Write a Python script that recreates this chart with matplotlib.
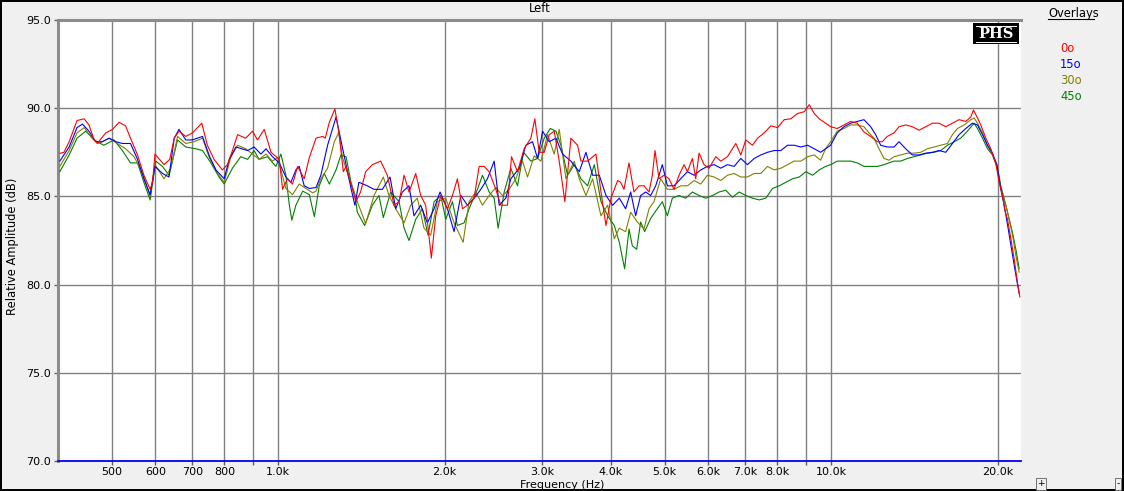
import matplotlib
matplotlib.use("Agg")
import matplotlib.pyplot as plt
from matplotlib.lines import Line2D
from matplotlib.patches import Rectangle
from matplotlib.ticker import FixedLocator, FixedFormatter, NullLocator

plt.rcParams["font.family"] = ["DejaVu Sans"]

TITLE = "Left"
X_LABEL = "Frequency (Hz)"
Y_LABEL = "Relative Amplitude (dB)"
LEGEND_TITLE = "Overlays"
LOGO = "PHS"

X_TICKS = [500, 600, 700, 800, 900, 1000, 2000, 3000, 4000, 5000, 6000, 7000, 8000, 9000, 10000, 20000]
X_TICK_LABELS = ["500", "600", "700", "800", "", "1.0k", "2.0k", "3.0k", "4.0k", "5.0k",
                 "6.0k", "7.0k", "8.0k", "", "10.0k", "20.0k"]
Y_TICKS = [70, 75, 80, 85, 90, 95]
Y_TICK_LABELS = ["70.0", "75.0", "80.0", "85.0", "90.0", "95.0"]
X_RANGE = (400, 22050)
Y_RANGE = (70, 95)

SERIES_NAMES = ["0o", "15o", "30o", "45o"]
SERIES_COLORS = ["#ff0000", "#0000ff", "#808000", "#008000"]

# 0 degrees (red)
F_0 = [403, 410, 419, 433, 446, 455, 465, 471, 488, 502, 516, 530, 541, 557, 572, 587, 593, 599, 622, 637,
       649, 662, 681, 700, 715, 728, 745, 766, 793, 810, 827, 845, 874, 899, 918, 944, 971, 1005, 1019, 1040,
       1062, 1085, 1115, 1139, 1171, 1204, 1217, 1238, 1267, 1290, 1312, 1327, 1355, 1383,
       1410, 1440, 1481, 1533, 1576, 1621, 1655, 1690, 1725, 1774, 1811, 1849, 1893, 1928, 1969, 2024,
       2067, 2110, 2155, 2200, 2262, 2310, 2358, 2408, 2476, 2528, 2599, 2643, 2710, 2786, 2865, 2913,
       2966, 3029, 3093, 3158, 3224, 3301, 3385, 3480, 3529, 3628, 3757, 3836, 3917, 3999, 4112,
       4163, 4222, 4311, 4401, 4494, 4589, 4686, 4751, 4804, 4885, 4988, 5093, 5200, 5310, 5422, 5498,
       5613, 5692, 5772, 5893, 6017, 6187, 6317, 6495, 6725, 6867, 7011, 7209, 7361, 7568, 7782, 8001,
       8227, 8458, 8697, 8942, 9130, 9323, 9519,
       9774, 9980, 10261, 10550, 10848, 11153, 11468, 11791, 12123, 12379, 12639, 12996, 13269, 13643,
       14028, 14423, 14830, 15248, 15678, 16120, 16574, 17041, 17522, 17891, 18090, 18395, 18653, 19046,
       19447, 19856, 20134, 20416, 20615, 20846, 21138, 21434, 21734, 21946]
DB_0 = [87.44, 87.5, 88.1, 89.3, 89.4, 89.05, 88.2, 88.0, 88.6, 88.8, 89.2, 89.0, 88.3, 87.35, 86.2, 85.4,
        85.8, 87.4, 86.8, 87.1, 88.3, 88.7, 88.4, 88.6, 88.9, 89.15, 87.9, 87.1, 86.5, 86.8, 87.6, 88.5,
        88.3, 88.7, 88.2, 88.8, 87.5, 87.1, 85.4, 86.0, 85.7, 86.7, 86.0, 87.2, 88.3, 88.4, 88.3, 89.2,
        89.96, 88.5, 86.4, 86.7, 85.7, 84.7,
        85.25, 86.4, 86.8, 87.0, 86.2, 84.5, 84.7, 86.2, 85.25, 86.3, 85.05, 84.5, 81.5, 83.9, 85.05, 84.3,
        85.05, 86.0, 84.3, 84.5, 84.9, 86.7, 86.7, 86.4, 85.4, 84.5, 84.5, 87.25, 86.4, 87.7, 88.3, 89.4,
        87.5, 87.5, 88.5, 88.7, 87.0, 84.7, 88.3, 87.9, 87.0, 87.0, 87.4, 85.25, 83.35, 84.9, 85.9,
        85.8, 85.4, 86.9, 85.25, 85.6, 85.6, 85.25, 86.2, 87.6, 86.0, 86.2, 86.0, 85.4, 86.2, 86.8, 86.4,
        87.15, 86.0, 87.45, 86.8, 86.6, 87.25, 87.0, 87.25, 88.0, 87.35, 88.2, 87.9, 88.3, 88.6, 89.0, 88.9,
        89.35, 89.4, 89.7, 89.8, 90.2, 89.7, 89.4,
        89.15, 88.95, 88.85, 89.05, 89.25, 89.15, 88.65, 88.4, 88.1, 88.1, 88.4, 88.6, 88.95, 89.05,
        88.95, 88.75, 88.95, 89.15, 89.15, 88.95, 89.15, 89.35, 89.25, 89.5, 89.9, 89.45, 89.05, 88.3,
        87.7, 86.85, 85.8, 85.05, 84.2, 83.7, 82.6, 81.45, 80.1, 79.3]

# 15 degrees (blue)
F_15 = [403, 419, 433, 443, 455, 468, 481, 495, 509, 523, 541, 557, 572, 587, 599, 618, 635, 649, 662, 681,
        700, 730, 751, 772, 799, 816, 839, 881, 905, 931, 951, 977, 1005, 1033, 1055, 1077, 1092, 1115,
        1139, 1171, 1195, 1229, 1273, 1299, 1327, 1355, 1377,
        1400, 1450, 1491, 1544, 1594, 1632, 1678, 1725, 1761, 1811, 1862, 1915, 1963, 2024, 2081, 2140,
        2200, 2262, 2326, 2391, 2459, 2511, 2581, 2636, 2729, 2806, 2885, 2946, 3008, 3093, 3180, 3269,
        3385, 3505, 3603, 3705, 3809, 3917, 4027, 4140,
        4251, 4341, 4432, 4525, 4621, 4718, 4818, 4953, 5058, 5200, 5347, 5498, 5652, 5812, 5976, 6144,
        6317, 6495, 6678, 6867, 7060, 7259, 7464, 7674, 7891, 8113, 8342, 8577, 8819, 9067, 9323,
        9572, 9774, 9980, 10261, 10550, 10848, 11153, 11468, 11791, 12039, 12293, 12639, 12996, 13269,
        13643, 14028, 14423, 14830, 15248, 15678, 16120, 16574, 17041, 17522, 18016, 18395, 18783, 19178,
        19582, 19939, 20275, 20559, 20846, 21138, 21434, 21734, 21885]
DB_15 = [87.0, 87.8, 88.9, 89.1, 88.7, 88.1, 88.1, 88.3, 88.1, 88.0, 88.0, 87.1, 86.0, 85.1, 86.7, 86.3,
         86.1, 88.3, 88.8, 88.2, 88.2, 88.4, 87.3, 86.5, 86.0, 87.1, 87.8, 87.6, 87.8, 87.4, 87.7, 87.25,
         86.9, 86.1, 85.8, 86.5, 86.7, 85.6, 85.45, 85.5, 86.2, 87.9, 89.5, 88.2, 86.8, 85.45, 84.5,
         85.8, 85.6, 85.4, 85.4, 86.1, 84.3, 85.25, 85.6, 83.9, 84.5, 83.5, 84.3, 85.25, 84.3, 83.0, 85.05,
         84.5, 84.9, 85.4, 86.0, 87.0, 84.5, 84.9, 86.0, 86.6, 87.9, 88.1, 87.15, 88.7, 88.1, 88.3, 87.4,
         87.0, 86.4, 87.5, 86.2, 86.2, 85.05, 84.5, 84.9,
         84.3, 85.25, 83.9, 85.05, 85.25, 85.05, 85.6, 86.8, 85.6, 85.6, 86.0, 86.4, 86.2, 86.5, 86.7, 86.8,
         86.6, 86.8, 86.7, 87.15, 86.8, 87.15, 87.35, 87.5, 87.6, 87.6, 87.9, 87.9, 87.8, 87.9, 87.7,
         87.5, 87.7, 87.9, 88.6, 88.95, 89.15, 89.25, 89.35, 88.95, 88.5, 87.9, 87.8, 87.8, 88.1,
         87.7, 87.35, 87.35, 87.45, 87.5, 87.6, 87.5, 88.0, 88.5, 88.85, 89.15, 89.05, 88.5, 87.9,
         87.45, 86.8, 85.4, 84.5, 83.4, 82.25, 81.1, 80.0, 79.5]

# 30 degrees (olive)
F_30 = [403, 419, 433, 446, 461, 474, 495, 512, 530, 549, 568, 587, 599, 622, 640, 658, 681, 705, 730, 751,
        777, 799, 821, 845, 874, 899, 924, 951, 977, 998, 1033, 1062, 1092, 1123, 1155, 1171, 1195, 1229,
        1264, 1287, 1308, 1345, 1377,
        1391, 1440, 1491, 1550, 1587, 1632, 1690, 1737, 1786, 1836, 1888, 1941, 2010, 2081, 2161, 2215,
        2278, 2342, 2408, 2476, 2546, 2618, 2691, 2767, 2825, 2905, 2987, 3071, 3158, 3224, 3315, 3432,
        3505, 3603, 3705, 3836, 3944, 4055, 4140,
        4251, 4341, 4463, 4589, 4686, 4784, 4919, 5058, 5200, 5347, 5498, 5652, 5812, 5976, 6144, 6317,
        6495, 6678, 6867, 7060, 7259, 7464, 7674, 7891, 8113, 8342, 8577, 8819, 9067, 9323,
        9572, 9774, 9980, 10261, 10550, 10848, 11153, 11468, 11709, 11956, 12208, 12465, 12728, 12996,
        13362, 13739, 14126, 14524, 14933, 15354, 15787, 16232, 16574, 16923, 17400, 17891, 18141, 18395,
        18783, 19178, 19582, 19939, 20275, 20702, 20992, 21285, 21583, 21885]
DB_30 = [86.7, 87.6, 88.6, 88.9, 88.3, 88.0, 88.3, 88.0, 87.7, 87.25, 86.4, 85.0, 86.8, 86.0, 86.6, 88.4,
         88.0, 88.1, 88.3, 87.2, 86.3, 85.8, 87.2, 87.9, 87.7, 87.4, 87.1, 87.4, 87.0, 87.2, 85.45, 85.1,
         85.7, 85.45, 85.2, 85.3, 86.0, 86.6, 88.1, 88.6, 87.2, 86.0, 85.1,
         84.7, 83.45, 85.05, 86.1, 85.05, 84.3, 83.5, 84.5, 84.9, 83.2, 82.8, 84.7, 84.9, 83.5, 82.4, 84.7,
         85.25, 84.5, 85.05, 85.5, 85.05, 85.4, 86.0, 87.0, 86.1, 87.3, 87.0, 88.5, 87.4, 88.8, 86.0, 87.0,
         86.0, 85.05, 86.0, 83.9, 84.5, 82.6, 83.2,
         83.0, 84.1, 83.55, 83.15, 84.3, 84.7, 86.0, 85.4, 85.4, 85.6, 85.6, 85.9, 85.7, 86.2, 86.1, 85.9,
         86.2, 86.3, 86.1, 86.1, 86.3, 86.3, 86.7, 86.5, 86.6, 86.8, 87.0, 87.0, 87.25, 87.35,
         87.05, 87.7, 88.1, 88.7, 88.85, 89.05, 89.05, 88.95, 88.6, 88.3, 87.7, 87.15, 87.05, 87.25,
         87.35, 87.45, 87.45, 87.5, 87.7, 87.8, 87.9, 88.0, 88.5, 88.85, 89.05, 89.35, 89.45, 89.15,
         88.6, 87.9, 87.35, 86.8, 85.45, 84.5, 83.7, 82.8, 81.65, 80.7]

# 45 degrees (green)
F_45 = [403, 419, 433, 449, 465, 484, 505, 523, 541, 557, 572, 587, 601, 618, 635, 658, 681, 710, 730, 756,
        782, 799, 827, 856, 881, 905, 924, 957, 991, 1012, 1033, 1048, 1059, 1077, 1108, 1139, 1163, 1187,
        1212, 1238, 1273, 1299, 1327, 1355, 1377,
        1391, 1434, 1481, 1522, 1550, 1598, 1655, 1690, 1725, 1774, 1824, 1867, 1915, 1969, 2010, 2067,
        2110, 2170, 2215, 2294, 2342, 2408, 2459, 2500, 2564, 2636, 2710, 2779, 2865, 2946, 3029, 3106,
        3180, 3247, 3338, 3432, 3529, 3628, 3731, 3836, 3944, 4055, 4140,
        4233, 4311, 4371, 4451, 4525, 4601, 4718, 4851, 4953, 5058, 5164, 5310, 5460, 5613, 5772, 5934,
        6102, 6274, 6450, 6632, 6819, 7011, 7209, 7412, 7621, 7836, 8057, 8284, 8517, 8758, 9004, 9258,
        9519,
        9774, 9980, 10261, 10550, 10848, 11153, 11468, 11791, 12123, 12465, 12728, 12996, 13362, 13739,
        14126, 14524, 14933, 15354, 15787, 16232, 16690, 17160, 17644, 18141, 18395, 18783, 19178, 19582,
        19995, 20275, 20702, 20992, 21285, 21583, 21885]
DB_45 = [86.4, 87.35, 88.3, 88.7, 88.2, 87.9, 88.2, 87.6, 86.9, 86.9, 85.8, 84.8, 87.0, 86.7, 86.2, 88.2,
         87.8, 87.7, 87.6, 86.9, 86.1, 85.7, 86.6, 87.25, 87.1, 87.6, 87.1, 87.25, 86.7, 87.4, 86.2, 84.5,
         83.65, 84.5, 85.3, 85.1, 83.85, 85.6, 86.3, 85.7, 86.5, 87.35, 87.25, 85.8, 85.1,
         84.1, 83.35, 84.5, 85.05, 83.8, 85.25, 84.7, 83.2, 82.5, 83.7, 84.3, 82.8, 84.7, 85.05, 83.7, 84.7,
         83.35, 83.5, 84.3, 85.4, 86.2, 85.25, 84.9, 83.2, 85.25, 86.6, 85.6, 87.5, 87.0, 87.15, 88.3, 88.85,
         88.7, 87.9, 86.2, 86.8, 86.0, 85.6, 86.8, 84.7, 83.9, 83.35, 82.4,
         80.9, 83.15, 82.2, 82.0, 83.55, 83.0, 83.75, 84.3, 84.7, 83.9, 84.9, 85.05, 84.9, 85.25, 85.05, 84.9,
         85.05, 85.25, 85.35, 84.95, 85.25, 85.05, 84.9, 84.8, 84.9, 85.45, 85.6, 85.8, 86.0, 86.1, 86.4, 86.2,
         86.5,
         86.7, 86.8, 87.0, 87.0, 87.0, 86.9, 86.7, 86.7, 86.7, 86.8, 86.9, 87.0, 87.0, 87.15,
         87.25, 87.35, 87.45, 87.5, 87.6, 87.9, 88.1, 88.3, 88.7, 89.15, 88.85, 88.3, 87.7, 87.35,
         86.6, 85.6, 84.5, 83.7, 82.95, 82.0, 80.9]

SERIES_F = [F_0, F_15, F_30, F_45]
SERIES_DB = [DB_0, DB_15, DB_30, DB_45]

W, H = 1124, 491
SPINE_GREY = "#8c8c8c"
GRID_GREY = "#808080"


def fx(px):
    return px / W


def fy(py):
    return 1 - py / H


fig = plt.figure(figsize=(W / 100, H / 100), dpi=100, facecolor="#f0f0f0",
                 edgecolor="black", linewidth=1.5)
ax = fig.add_axes([fx(58), fy(461), fx(1021) - fx(58), fy(20) - fy(461)])
ax.set_facecolor("white")

# draw 45o first so that 0o ends up on top
for f, db, c in reversed(list(zip(SERIES_F, SERIES_DB, SERIES_COLORS))):
    ax.plot(f, db, color=c, lw=0.8, zorder=3)

ax.set_xscale("log")
ax.set_xlim(*X_RANGE)
ax.set_ylim(*Y_RANGE)
ax.xaxis.set_major_locator(FixedLocator(X_TICKS))
ax.xaxis.set_major_formatter(FixedFormatter(X_TICK_LABELS))
ax.xaxis.set_minor_locator(NullLocator())
ax.yaxis.set_major_locator(FixedLocator(Y_TICKS))
ax.yaxis.set_major_formatter(FixedFormatter(Y_TICK_LABELS))

ax.grid(True, color=GRID_GREY, lw=1.0, zorder=1)
ax.set_axisbelow(True)
ax.tick_params(axis="both", direction="out", length=3, width=1, color="#606060",
               labelsize=8, labelcolor="black")
ax.tick_params(axis="x", pad=1.5)
ax.tick_params(axis="y", pad=2)

ax.spines["right"].set_visible(False)
ax.spines["top"].set_color(SPINE_GREY)
ax.spines["top"].set_linewidth(2.2)
ax.spines["left"].set_color(SPINE_GREY)
ax.spines["left"].set_linewidth(2.2)
ax.spines["bottom"].set_color("#0000ff")
ax.spines["bottom"].set_linewidth(1.3)

fig.text(fx(540), fy(9), TITLE, ha="center", va="center", fontsize=8.3)
fig.text(fx(562), fy(484.5), X_LABEL, ha="center", va="center", fontsize=8)
fig.text(fx(13), fy(246.5), Y_LABEL, ha="center", va="center", rotation=90, fontsize=8.3)

# overlay legend on the right
fig.text(fx(1048), fy(13), LEGEND_TITLE, ha="left", va="center", fontsize=8.3)
fig.add_artist(Line2D([fx(1048), fx(1094)], [fy(19), fy(19)], color="black", lw=0.8))
for i, (name, c) in enumerate(zip(SERIES_NAMES, SERIES_COLORS)):
    fig.text(fx(1060), fy(48 + 16.2 * i), name, color=c, ha="left", va="center", fontsize=8.3)

# PHS badge
fig.add_artist(Rectangle((fx(973), fy(44)), fx(1019) - fx(973), fy(23) - fy(44),
                         transform=fig.transFigure, facecolor="black", edgecolor="none", zorder=5))
fig.text(fx(996), fy(33.5), LOGO, ha="center", va="center", color="white", fontsize=10.5,
         family="DejaVu Serif", weight="bold", zorder=6)
for yy in (25.5, 41.5):
    fig.add_artist(Line2D([fx(976), fx(1016)], [fy(yy), fy(yy)], color="white", lw=0.7, zorder=6))

# little zoom buttons in the bottom right
for xx, sym in ((1041, "+"), (1118, "-")):
    fig.text(fx(xx), fy(484), sym, ha="center", va="center", fontsize=6.5,
             bbox=dict(boxstyle="square,pad=0.15", facecolor="#f0f0f0", edgecolor="#606060", lw=0.6))

fig.savefig("out.png", dpi=100, facecolor=fig.get_facecolor(), edgecolor=fig.get_edgecolor())
